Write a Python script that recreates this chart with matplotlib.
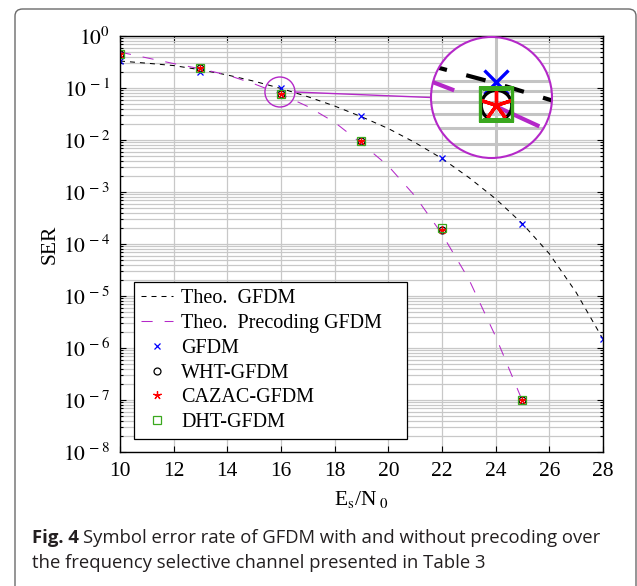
import numpy as np
import matplotlib
matplotlib.use('Agg')
import matplotlib.pyplot as plt
from matplotlib.patches import Circle, FancyBboxPatch
from matplotlib.lines import Line2D
from matplotlib.transforms import IdentityTransform
from matplotlib.ticker import LogLocator, FixedLocator, FuncFormatter, NullFormatter

plt.rcParams['font.family'] = ['Liberation Serif', 'DejaVu Serif']
plt.rcParams['mathtext.fontset'] = 'stix'

W, H = 637, 586

# theoretical curves
snr_theo = [10, 11, 12, 13, 14, 15, 16, 17, 18, 19, 20, 21, 22, 23, 24, 25, 26, 27, 28]
ser_theo_gfdm = [0.33, 0.30, 0.27, 0.224, 0.178, 0.135, 0.098, 0.068, 0.045, 0.028,
                 0.0166, 0.0089, 0.0044, 0.0019, 7.4e-4, 2.45e-4, 6.5e-5, 1.17e-5, 1.48e-6]
snr_theo_pre = [10, 11, 12, 13, 14, 15, 16, 17, 18, 19, 20, 21, 22, 23, 24, 25]
ser_theo_pre = [0.49, 0.38, 0.295, 0.234, 0.178, 0.12, 0.076, 0.044, 0.0219, 0.0086,
                0.00316, 8.3e-4, 1.55e-4, 2.1e-5, 1.66e-6, 9.5e-8]

# simulated points
snr_gfdm = [10, 13, 16, 19, 22, 25, 28]
ser_gfdm = [0.33, 0.20, 0.099, 0.029, 0.0045, 2.4e-4, 1.5e-6]
snr_pre = [10, 13, 16, 19, 22, 25]
ser_wht = [0.45, 0.24, 0.077, 0.0095, 1.9e-4, 1.0e-7]
ser_cazac = [0.45, 0.24, 0.077, 0.0095, 1.9e-4, 1.0e-7]
ser_dht = [0.46, 0.245, 0.078, 0.0097, 2.05e-4, 1.02e-7]

labels = ['Theo.  GFDM', 'Theo.  Precoding GFDM', 'GFDM', 'WHT-GFDM', 'CAZAC-GFDM', 'DHT-GFDM']

MAG = '#b428c8'
GREEN = '#3aa81e'
STAR = (5, 2, 0)   # five-armed asterisk


def fx(x):
    return x / W


def fy(y):
    return 1 - y / H


fig = plt.figure(figsize=(W / 100, H / 100), dpi=100)

# frame round the figure
frame = FancyBboxPatch((fx(15), fy(600)), fx(636) - fx(15), fy(9) - fy(600),
                       boxstyle='round,pad=0,rounding_size=0.012', transform=fig.transFigure,
                       fc='none', ec='#6a6a6a', lw=1.0)
fig.add_artist(frame)

ax = fig.add_axes([fx(120), fy(452), (603 - 120) / W, (452 - 36) / H])


def draw_all(a, lw_line, ms, mew, dash_k, dash_m):
    a.plot(snr_theo, ser_theo_gfdm, color='k', lw=lw_line, dashes=dash_k, label=labels[0])
    a.plot(snr_theo_pre, ser_theo_pre, color=MAG, lw=lw_line, dashes=dash_m, label=labels[1])
    a.plot(snr_gfdm, ser_gfdm, 'x', color='b', ms=ms[0], mew=mew, label=labels[2])
    a.plot(snr_pre, ser_wht, 'o', color='k', mfc='none', ms=ms[1], mew=mew, label=labels[3])
    a.plot(snr_pre, ser_cazac, marker=STAR, ls='none', color='r', ms=ms[2], mew=mew, label=labels[4])
    a.plot(snr_pre, ser_dht, 's', color=GREEN, mfc='none', ms=ms[3], mew=mew, label=labels[5])


draw_all(ax, 0.75, [5, 5, 6, 6], 0.9, (4.8, 4.8), (10.7, 11.5))

ax.set_yscale('log')
ax.set_xlim(10, 28)
ax.set_ylim(1e-8, 1)
ax.set_xticks(range(10, 29, 2))
ax.yaxis.set_major_locator(FixedLocator([10.0 ** k for k in range(-8, 1)]))
ax.yaxis.set_minor_locator(LogLocator(base=10, subs=range(2, 10), numticks=50))
ax.yaxis.set_minor_formatter(NullFormatter())


def yfmt(v, pos):
    k = int(round(np.log10(v)))
    if k == 0:
        return r'$10^{0}$'
    return r'$10^{\,-%d}$' % (-k)


ax.yaxis.set_major_formatter(FuncFormatter(yfmt))
ax.tick_params(which='both', direction='in', top=True, right=True, labelsize=15.5, width=0.8)
ax.tick_params(which='major', length=4, pad=7)
ax.tick_params(which='minor', length=2)
ax.grid(True, which='major', axis='x', color='#c8c8c8', lw=0.9)
ax.grid(True, which='both', axis='y', color='#c8c8c8', lw=0.9)
ax.set_axisbelow(True)
for s in ax.spines.values():
    s.set_linewidth(1.0)

ax.set_xlabel(r'E$_{\rm s}$/N$_{\ 0}$', fontsize=15.5, labelpad=6)
ax.set_ylabel('SER', fontsize=15.5, labelpad=2)

leg = ax.legend(loc='lower left', bbox_to_anchor=(0.029, 0.031, (407 - 134) / 483, 0.0),
                mode='expand', fontsize=14.5,
                frameon=True, fancybox=False, edgecolor='k', framealpha=1,
                handlelength=1.6, handletextpad=0.4, labelspacing=0.28, borderpad=0.35,
                borderaxespad=0)
leg.get_frame().set_linewidth(0.9)

# magnifier
ZX, ZY = 15.96, 10 ** -1.077
r_small = 15.0
CX, CY, R = 491.5, 97.5, 60.5

fig.canvas.draw()
cx, cy = ax.transData.transform((ZX, ZY))
small = Circle((cx, cy), r_small, transform=IdentityTransform(), fill=False, ec=MAG, lw=1.0)
fig.add_artist(small)
link = Line2D([cx + r_small, CX - R], [cy, H - CY], transform=IdentityTransform(), color=MAG, lw=1.0)
fig.add_artist(link)

mag = R / r_small
axins = fig.add_axes([fx(CX - R), fy(CY + R), 2 * R / W, 2 * R / H])
axins.set_yscale('log')
dx = R / mag / 26.83
dy = R / mag / 52.0
lz = np.log10(ZY)
axins.set_xlim(ZX - dx, ZX + dx)
axins.set_ylim(10 ** (lz - dy), 10 ** (lz + dy))
axins.axis('off')

bg = Circle((0.5, 0.5), 0.5, transform=axins.transAxes, fc='white', ec='none', zorder=0)
axins.add_patch(bg)
for k in (-2, -1):
    for m in range(1, 10):
        axins.axhline(m * 10.0 ** k, color='#c4c4c4', lw=2.2, zorder=1)
axins.axvline(16, color='#c4c4c4', lw=2.2, zorder=1)
draw_all(axins, 3.0, [17, 22, 22, 23], 2.4, (4.8, 4.8), (10.7, 11.5))

clip = Circle((0.5, 0.5), 0.5, transform=axins.transAxes)
for art in axins.lines:
    art.set_clip_path(clip)
outline = Circle((0.5, 0.5), 0.5, transform=axins.transAxes, fill=False, ec=MAG, lw=1.5,
                 zorder=10, clip_on=False)
axins.add_patch(outline)

# caption
cap_font = dict(family=['Open Sans', 'DejaVu Sans'], fontsize=13.3, color='#231f20')
t1 = fig.text(fx(32), fy(543), 'Fig. 4', fontweight='bold', va='baseline', **cap_font)
fig.canvas.draw()
bb = t1.get_window_extent()
fig.text((bb.x1 + 4) / W, fy(543), 'Symbol error rate of GFDM with and without precoding over',
         va='baseline', **cap_font)
fig.text(fx(32), fy(568), 'the frequency selective channel presented in Table 3',
         va='baseline', **cap_font)

fig.savefig('out.png', dpi=100)
